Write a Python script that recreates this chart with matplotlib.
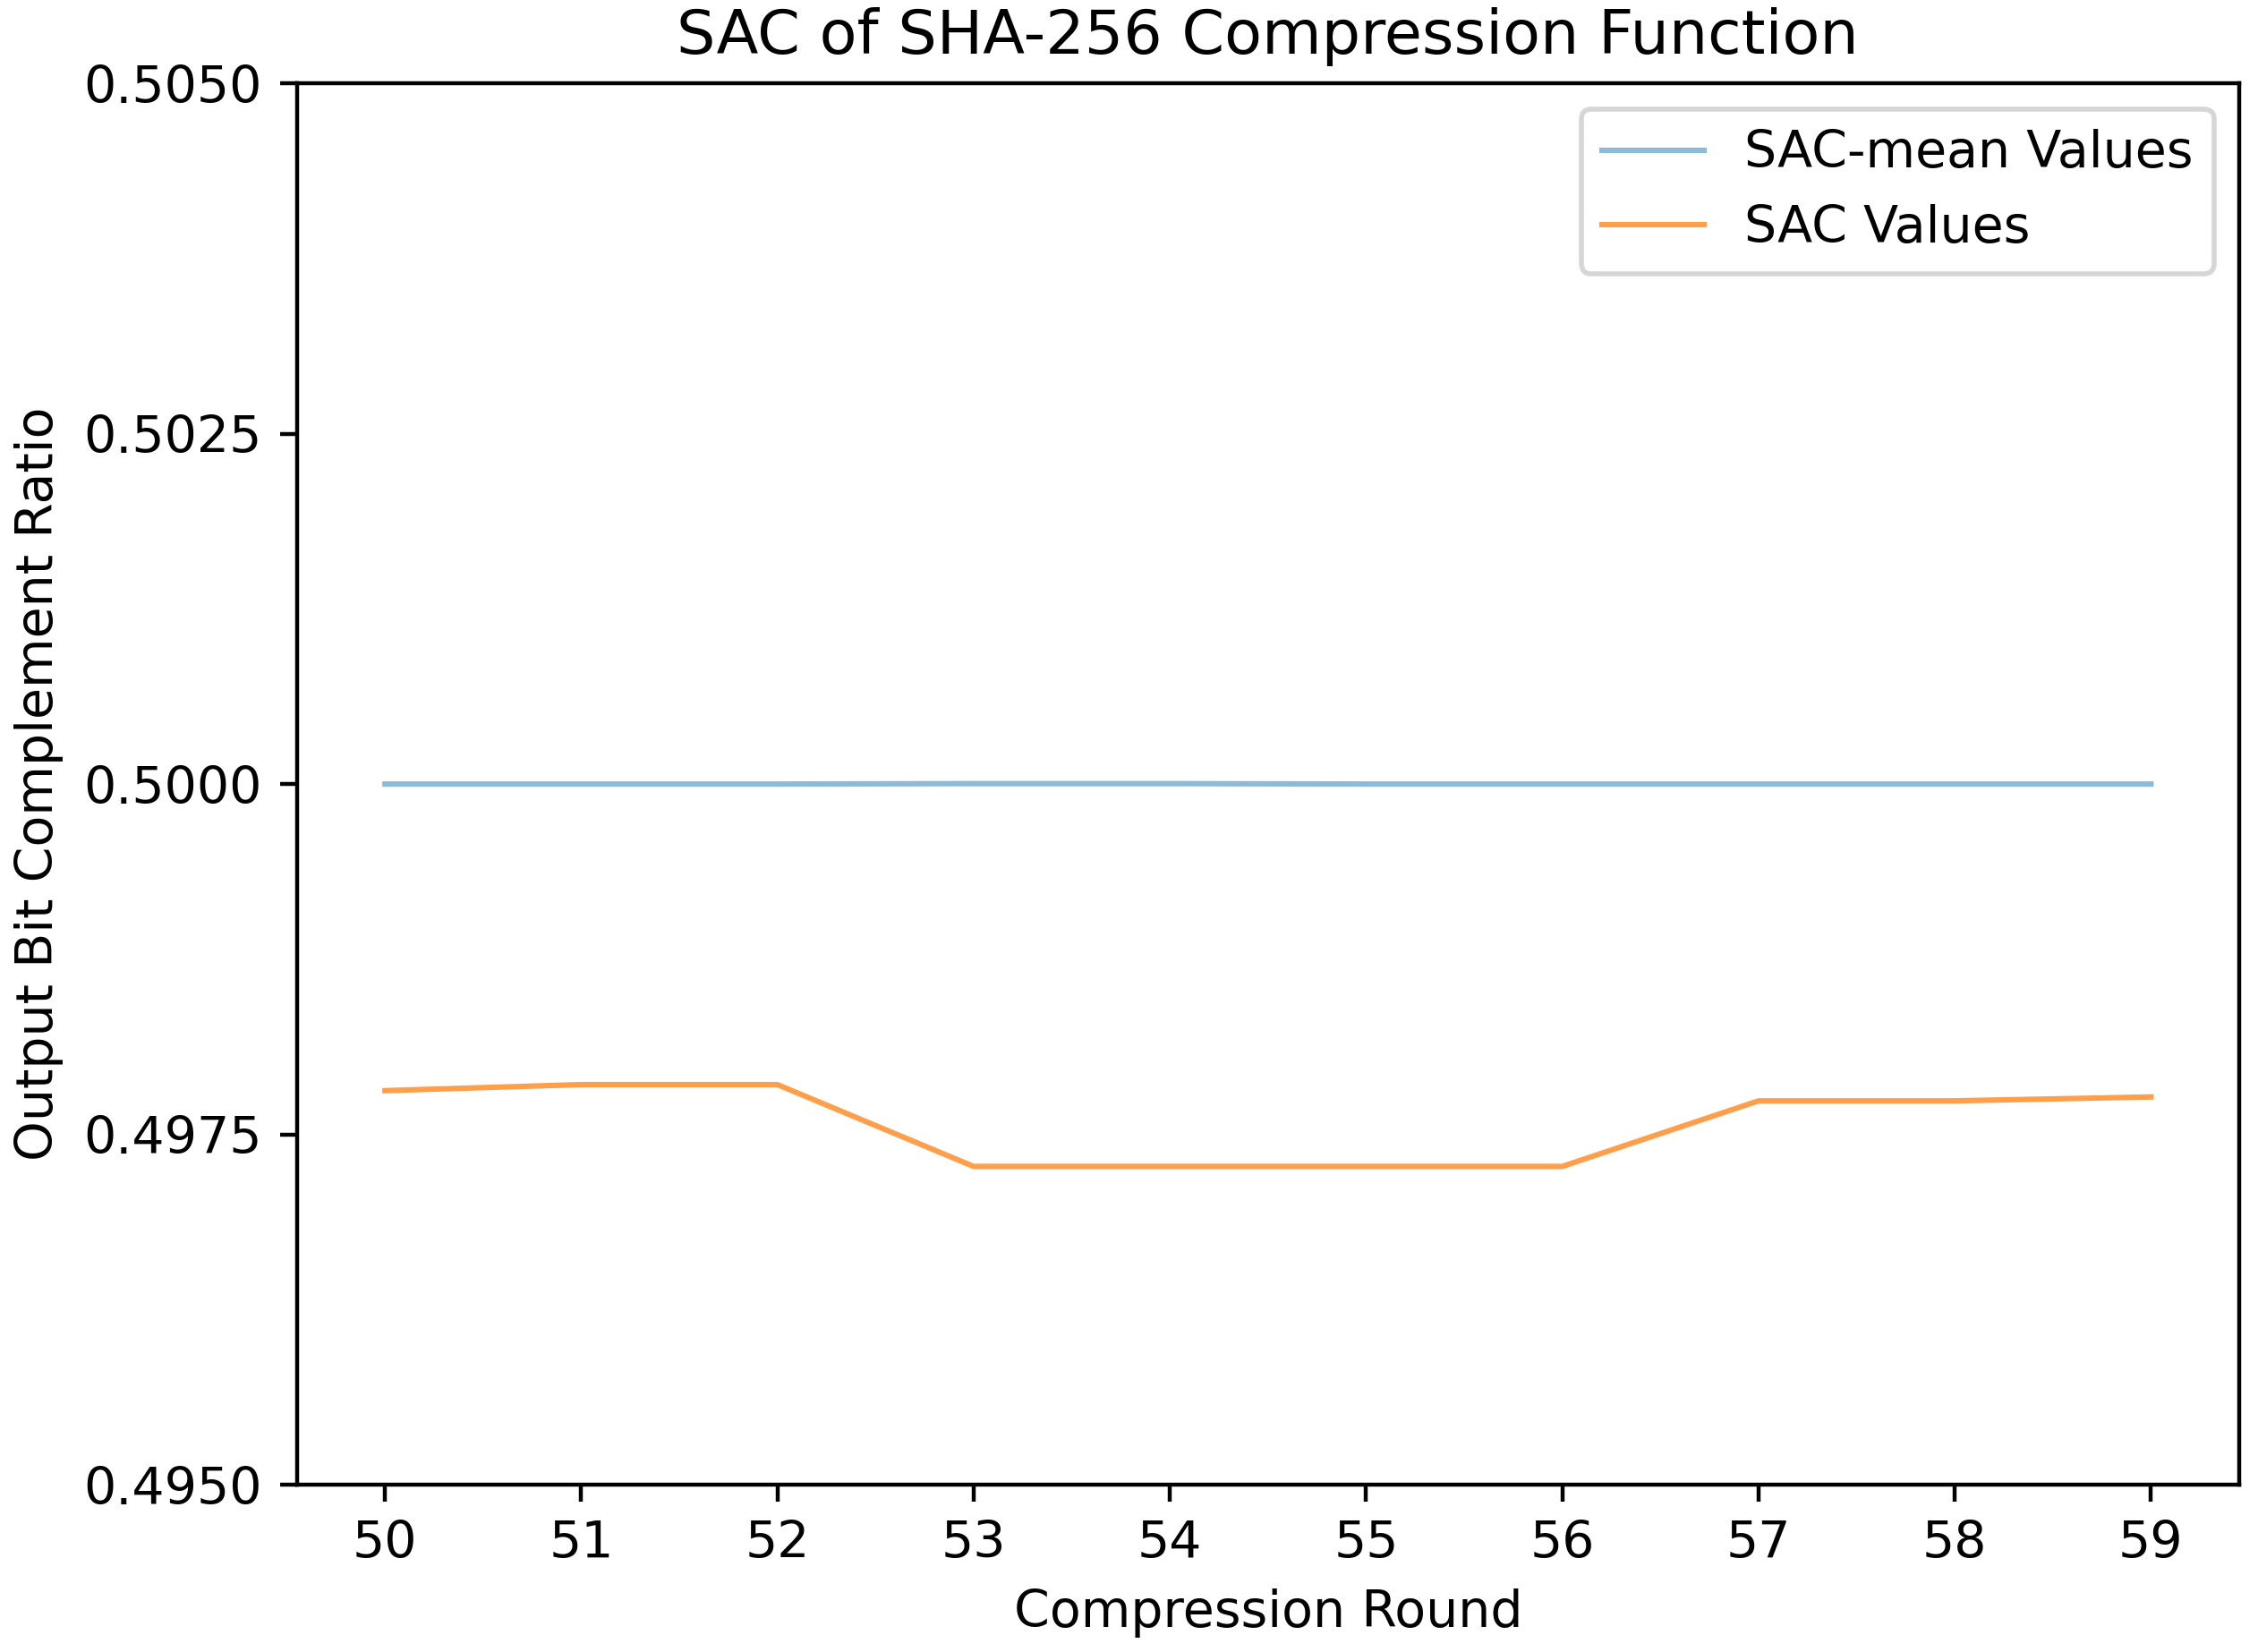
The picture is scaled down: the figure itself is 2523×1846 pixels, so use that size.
import matplotlib
matplotlib.use("Agg")
import matplotlib.pyplot as plt

rounds = [50, 51, 52, 53, 54, 55, 56, 57, 58, 59]
sac_mean = [0.500000, 0.500000, 0.500000, 0.500003, 0.500003, 0.500000, 0.500000, 0.500000, 0.500000, 0.500000]
sac_values = [0.497812, 0.497855, 0.497855, 0.497271, 0.497271, 0.497271, 0.497271, 0.497739, 0.497739, 0.497767]

plt.rcParams["font.size"] = 10.25

fig = plt.figure(figsize=(2523 / 400, 1846 / 400), dpi=400)
ax = fig.add_axes([0.1314, 0.1013, 0.9917 - 0.1314, 0.9495 - 0.1013])

ax.plot(rounds, sac_mean, color="#1f77b4", alpha=0.5, lw=1.1, label="SAC-mean Values")
ax.plot(rounds, sac_values, color="#ff7f0e", alpha=0.75, lw=1.1, label="SAC Values")

ax.set_ylim(0.495, 0.505)
ax.set_yticks([0.495, 0.4975, 0.5, 0.5025, 0.505])
ax.set_yticklabels(["0.4950", "0.4975", "0.5000", "0.5025", "0.5050"])
ax.set_xticks(rounds)
ax.set_xlabel("Compression Round")
ax.set_ylabel("Output Bit Complement Ratio")
ax.set_title("SAC of SHA-256 Compression Function")
ax.legend(loc="upper right")

fig.savefig("out.png", dpi=400)
